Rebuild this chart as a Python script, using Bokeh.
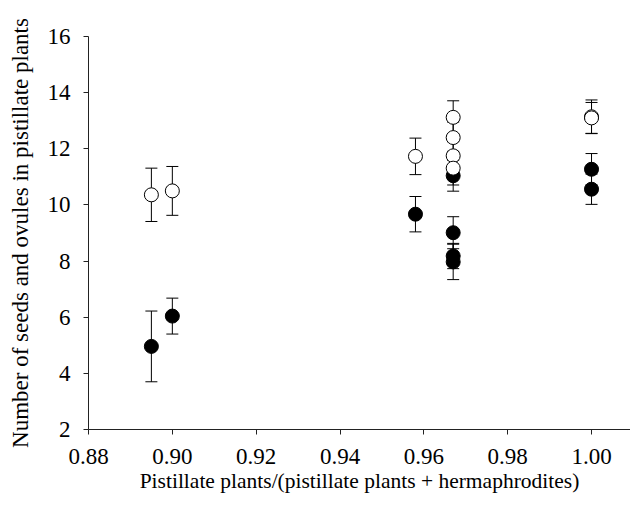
from bokeh.plotting import figure
from bokeh.models import ColumnDataSource, Whisker, TeeHead, Range1d, FixedTicker, CustomJSTickFormatter
from bokeh.embed import file_html
from bokeh.resources import INLINE

# Data
x_filled = [0.895, 0.900, 0.958, 0.967, 0.967, 0.967, 0.967, 1.000, 1.000]
y_filled = [4.96, 6.04, 9.67, 11.04, 9.01, 8.18, 7.97, 11.27, 10.56]
e_filled = [1.26, 0.64, 0.63, 0.55, 0.57, 0.45, 0.63, 0.56, 0.54]

x_open = [0.895, 0.900, 0.958, 0.967, 0.967, 0.967, 0.967, 1.000, 1.000]
y_open = [10.36, 10.50, 11.73, 13.12, 12.40, 11.75, 11.31, 13.14, 13.10]
e_open = [0.95, 0.87, 0.65, 0.59, 0.55, 0.50, 0.60, 0.60, 0.55]

x_ticks = [0.88, 0.90, 0.92, 0.94, 0.96, 0.98, 1.00]
y_ticks = [2, 4, 6, 8, 10, 12, 14, 16]

FONT = "Liberation Serif"

def src(xs, ys, es):
    return ColumnDataSource(dict(
        x=xs, y=ys,
        lo=[a - b for a, b in zip(ys, es)],
        hi=[a + b for a, b in zip(ys, es)],
    ))

s_f = src(x_filled, y_filled, e_filled)
s_o = src(x_open, y_open, e_open)

p = figure(width=630, height=510, output_backend="svg", toolbar_location=None,
           x_range=Range1d(0.88, 1.0093), y_range=Range1d(2, 16),
           min_border_left=88, min_border_right=0, min_border_top=36, min_border_bottom=81)

p.outline_line_color = None
p.xgrid.visible = False
p.ygrid.visible = False
p.background_fill_color = "white"
p.border_fill_color = "white"

for ax in (p.xaxis[0], p.yaxis[0]):
    ax.major_tick_out = 5
    ax.major_tick_in = 0
    ax.minor_tick_line_color = None
    ax.axis_line_color = "#222222"
    ax.major_tick_line_color = "#222222"
    ax.major_label_text_font = FONT
    ax.major_label_text_font_size = "23px"
    ax.major_label_text_color = "black"
    ax.axis_label_text_font = FONT
    ax.axis_label_text_font_style = "normal"
    ax.axis_label_text_color = "black"

p.xaxis.axis_label_text_font_size = "21.5px"
p.yaxis.axis_label_text_font_size = "23px"
p.xaxis.ticker = FixedTicker(ticks=x_ticks)
p.yaxis.ticker = FixedTicker(ticks=y_ticks)
p.xaxis.formatter = CustomJSTickFormatter(code="return tick.toFixed(2);")
p.xaxis.major_label_standoff = 14
p.yaxis.major_label_standoff = 13
p.xaxis.axis_label_standoff = 2
p.yaxis.axis_label_standoff = 12
p.xaxis.axis_label = "Pistillate plants/(pistillate plants + hermaphrodites)"
p.yaxis.axis_label = "Number of seeds and ovules in pistillate plants"

for s in (s_f, s_o):
    w = Whisker(source=s, base="x", lower="lo", upper="hi", dimension="height",
                line_color="black", line_width=1,
                upper_head=TeeHead(size=12, line_color="black", line_width=1),
                lower_head=TeeHead(size=12, line_color="black", line_width=1))
    p.add_layout(w)

p.scatter("x", "y", source=s_f, size=14, marker="circle",
          fill_color="black", line_color="black", line_width=1)
p.scatter("x", "y", source=s_o, size=14, marker="circle",
          fill_color="white", line_color="black", line_width=1)

open("out.html", "w").write(file_html(p, INLINE))
